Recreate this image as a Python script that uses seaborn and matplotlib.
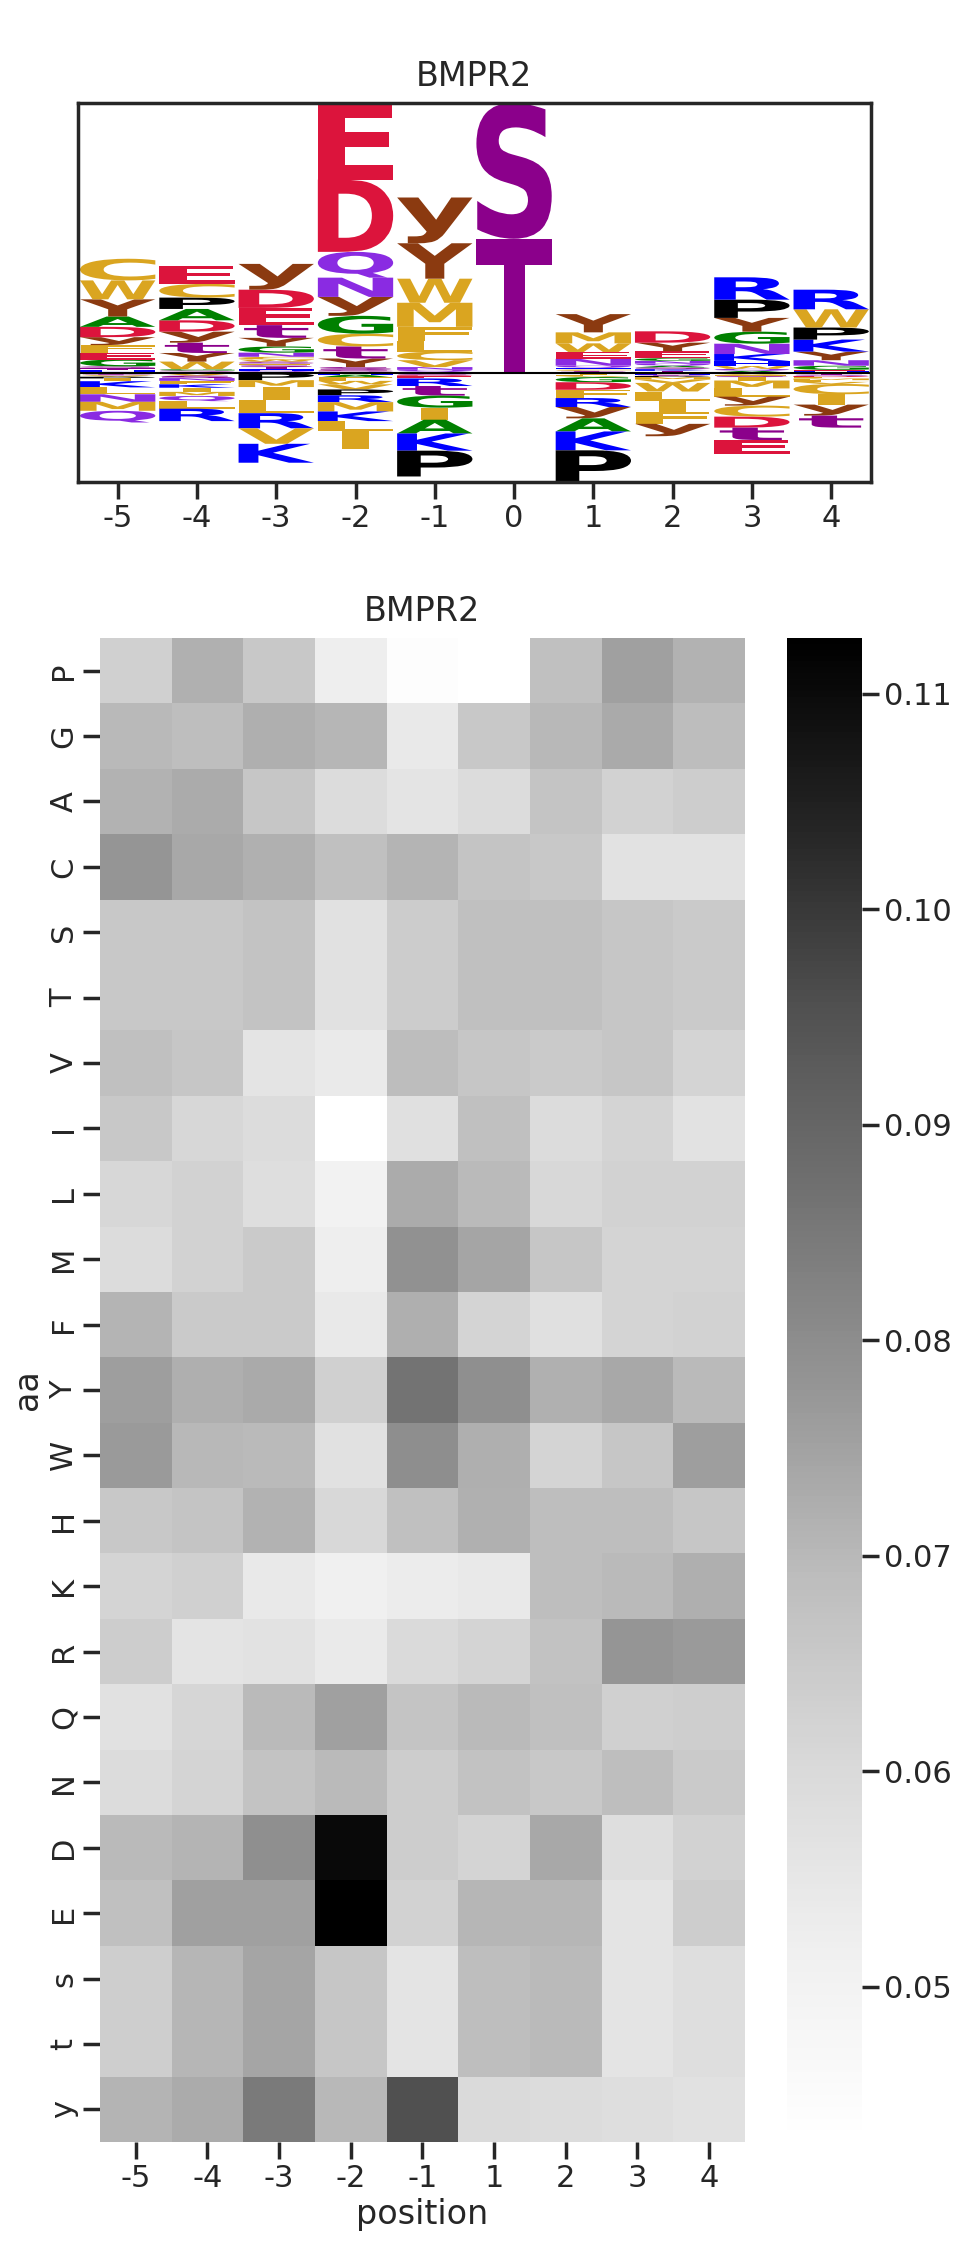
import numpy as np
import pandas as pd
import matplotlib
matplotlib.use('Agg')
import matplotlib.pyplot as plt
import seaborn as sns
from matplotlib.textpath import TextPath
from matplotlib.patches import PathPatch
from matplotlib.font_manager import FontProperties
from matplotlib.transforms import Affine2D

sns.set_theme(style='ticks', context='poster')

kinase = 'BMPR2'
aa = ['P', 'G', 'A', 'C', 'S', 'T', 'V', 'I', 'L', 'M', 'F', 'Y',
      'W', 'H', 'K', 'R', 'Q', 'N', 'D', 'E', 's', 't', 'y']

# logo: positions -5..4 (0 = phosphosite)
logo_pos = [-5, -4, -3, -2, -1, 0, 1, 2, 3, 4]
logo_vals = {
    'P': [-.005, .033, -.020, -.017, -.075, 0, -.092, -.003, .053, .035],
    'G': [.020, .004, .018, .052, -.035, 0, -.015, .008, .035, .012],
    'A': [.030, .033, .004, -.008, -.040, 0, -.038, .005, .005, -.002],
    'C': [.063, .040, .008, .037, .025, 0, .004, -.002, -.032, -.030],
    'S': [.006, .003, .006, .005, -.002, .395, .002, .005, .002, .003],
    'T': [.005, .003, .005, .005, -.002, .391, .002, .004, -.002, -.002],
    'V': [-.004, -.007, -.045, -.015, .020, 0, -.003, -.010, -.003, -.006],
    'I': [-.008, -.012, -.038, -.050, -.035, 0, -.003, -.032, -.010, -.030],
    'L': [-.020, -.022, -.038, -.030, .030, 0, -.003, -.027, -.024, -.005],
    'M': [-.026, -.012, -.020, -.027, .070, 0, .032, -.007, -.023, -.005],
    'F': [.022, -.010, .005, -.010, .042, 0, -.024, -.035, -.003, -.004],
    'Y': [.050, .025, .025, .025, .103, 0, .053, .025, .040, .025],
    'W': [.055, .022, .006, -.010, .070, 0, .025, -.025, .008, .053],
    'H': [.005, .002, .005, -.004, .004, 0, .005, -.002, .015, .003],
    'K': [-.018, -.010, -.055, -.028, -.050, 0, -.055, .005, .020, .035],
    'R': [.004, -.036, -.044, -.020, -.022, 0, -.026, .003, .065, .057],
    'Q': [-.034, -.015, .004, .075, .006, 0, .006, .006, .006, -.002],
    'N': [-.022, -.008, .012, .056, .008, 0, .020, .008, .030, .016],
    'D': [.030, .033, .053, .210, -.002, 0, -.022, .033, -.032, -.003],
    'E': [.020, .052, .050, .223, -.007, 0, .020, .020, -.040, .004],
    's': [-.003, -.007, .005, .008, -.002, 0, -.002, -.002, -.003, -.002],
    't': [-.003, .030, .037, .035, -.028, 0, .003, -.002, -.036, -.035],
    'y': [.023, .032, .075, .055, .133, 0, -.033, -.036, -.026, -.032],
}

# heatmap: positions without 0
hm_pos = [-5, -4, -3, -2, -1, 1, 2, 3, 4]
hm_vals = {
    'P': [.0631, .0719, .0656, .0526, .0440, .0428, .0681, .0755, .0715],
    'G': [.0699, .0687, .0721, .0706, .0545, .0656, .0703, .0732, .0692],
    'A': [.0715, .0728, .0662, .0591, .0561, .0591, .0668, .0625, .0640],
    'C': [.0777, .0737, .0719, .0681, .0710, .0668, .0656, .0568, .0568],
    'S': [.0656, .0656, .0671, .0572, .0646, .0681, .0681, .0662, .0650],
    'T': [.0656, .0656, .0671, .0572, .0646, .0681, .0681, .0662, .0650],
    'V': [.0681, .0662, .0561, .0538, .0692, .0662, .0650, .0662, .0619],
    'I': [.0656, .0609, .0591, .0428, .0576, .0681, .0591, .0619, .0568],
    'L': [.0609, .0625, .0584, .0503, .0728, .0697, .0606, .0625, .0625],
    'M': [.0591, .0625, .0650, .0523, .0789, .0744, .0662, .0619, .0619],
    'F': [.0710, .0650, .0650, .0545, .0721, .0619, .0576, .0619, .0625],
    'Y': [.0759, .0721, .0732, .0631, .0864, .0794, .0719, .0737, .0697],
    'W': [.0768, .0703, .0697, .0572, .0797, .0721, .0619, .0662, .0759],
    'H': [.0656, .0668, .0715, .0606, .0681, .0719, .0687, .0687, .0662],
    'K': [.0619, .0631, .0545, .0515, .0534, .0545, .0687, .0697, .0721],
    'R': [.0640, .0561, .0568, .0538, .0599, .0619, .0674, .0777, .0768],
    'Q': [.0572, .0612, .0697, .0755, .0668, .0697, .0681, .0631, .0637],
    'N': [.0591, .0619, .0671, .0697, .0640, .0674, .0656, .0687, .0650],
    'D': [.0697, .0710, .0794, .1102, .0640, .0619, .0737, .0584, .0625],
    'E': [.0681, .0755, .0755, .1126, .0625, .0706, .0706, .0561, .0640],
    's': [.0637, .0706, .0744, .0662, .0561, .0687, .0697, .0561, .0584],
    't': [.0637, .0706, .0744, .0662, .0561, .0687, .0697, .0561, .0584],
    'y': [.0710, .0728, .0846, .0703, .0956, .0599, .0591, .0584, .0572],
}

colors = {'A': 'green', 'G': 'green', 'D': 'crimson', 'E': 'crimson',
          'K': 'blue', 'R': 'blue', 'H': 'blue', 'P': 'black',
          'S': 'darkmagenta', 'T': 'darkmagenta', 's': 'darkmagenta', 't': 'darkmagenta',
          'Y': '#8B3A10', 'y': '#8B3A10', 'N': 'blueviolet', 'Q': 'blueviolet',
          'C': 'goldenrod', 'V': 'goldenrod', 'I': 'goldenrod', 'L': 'goldenrod',
          'M': 'goldenrod', 'F': 'goldenrod', 'W': 'goldenrod'}

logo_df = pd.DataFrame(logo_vals, index=logo_pos)
hm_df = pd.DataFrame(hm_vals, index=hm_pos).T
hm_df.index.name = 'aa'
hm_df.columns.name = 'position'

fp = FontProperties(family='DejaVu Sans', weight='bold')
e_width = TextPath((0, 0), 'E', size=1, prop=fp).get_extents().width


def draw_glyph(ax, ch, x, bottom, height, width=0.95):
    path = TextPath((0, 0), ch, size=1, prop=fp)
    bb = path.get_extents()
    hs = min(width / bb.width, width / e_width)
    vs = height / bb.height
    w = bb.width * hs
    tr = Affine2D().translate(-bb.x0, -bb.y0).scale(hs, vs).translate(x - w / 2, bottom)
    ax.add_patch(PathPatch(tr.transform_path(path), fc=colors[ch], ec='none', lw=0))


fig = plt.figure(figsize=(9.54, 22.47), dpi=100)
ax1 = fig.add_axes([0.0818, 0.7855, 0.831, 0.1687])
ax2 = fig.add_axes([0.1048, 0.0467, 0.676, 0.6694])
cax = fig.add_axes([0.825, 0.0467, 0.0786, 0.6694])

# logo, stacked big on top
lo, hi = 0, 0
for p in logo_pos:
    row = logo_df.loc[p].sort_values(key=abs)
    up, down = 0.0, 0.0
    for ch, v in row.items():
        if v > 0:
            draw_glyph(ax1, ch, p, up, v)
            up += v
        elif v < 0:
            down += v
            draw_glyph(ax1, ch, p, down, -v)
    lo, hi = min(lo, down), max(hi, up)
ax1.axhline(0, color='black', lw=1.5)
ax1.set_xlim(-5.5, 4.5)
ax1.set_ylim(lo, hi)
ax1.set_xticks(logo_pos)
ax1.set_xticklabels(logo_pos)
ax1.set_yticks([])
ax1.set_title(kinase, pad=12)

sns.heatmap(hm_df, cmap='Greys', ax=ax2, cbar_ax=cax)
ax2.set_title(kinase, pad=12)

fig.savefig('out.png', dpi=100)
